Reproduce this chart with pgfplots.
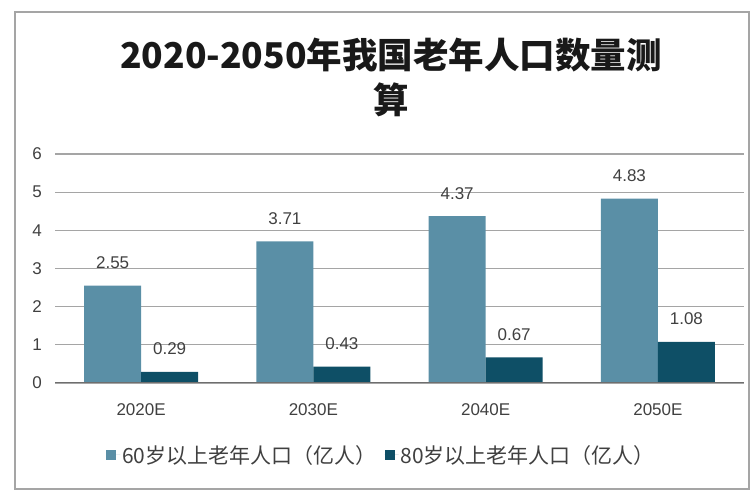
\documentclass[border=0pt]{standalone}
\usepackage{pgfplots}
\pgfplotsset{compat=1.18}
\usepackage{fontspec}
\setmainfont{Liberation Sans}
\newfontfamily\cjk{Noto Sans CJK SC}
\definecolor{c1}{RGB}{90,143,166}
\definecolor{c2}{RGB}{14,79,102}
\definecolor{txt}{RGB}{64,64,64}
\definecolor{gridc}{RGB}{165,165,165}
\definecolor{axc}{RGB}{110,110,110}
\begin{document}
\begin{tikzpicture}[x=1pt,y=1pt]
\path (0,0) rectangle (750,500);
\draw[gridc, line width=1.2pt] (15,11) rectangle (749,488);
\node[font=\cjk\bfseries\fontsize{35.5}{40}\selectfont, text=black!90] at (391,445) {2020-2050年我国老年人口数量测};
\node[font=\cjk\bfseries\fontsize{35.5}{40}\selectfont, text=black!90] at (391,400) {算};
\begin{axis}[
  at={(55pt,117pt)}, anchor=south west,
  width=689pt, height=229pt, scale only axis,
  xmin=-0.5, xmax=3.5, ymin=0, ymax=6,
  xtick={0,1,2,3}, xticklabels={2020E,2030E,2040E,2050E},
  ytick={0,1,2,3,4,5,6},
  /pgf/number format/assume math mode=true,
  axis line style={draw=none},
  major tick length=0pt,
  ymajorgrids, grid style={gridc, line width=1.3pt},
  tick label style={font=\fontsize{17}{19}\selectfont, text=txt},
  xticklabel style={anchor=center, yshift=-27pt},
  yticklabel style={anchor=center, xshift=-18pt},
  ybar=0pt, bar width=57pt,
  nodes near coords,
  nodes near coords style={font=\fontsize{17}{19}\selectfont, text=txt, anchor=center, yshift=23pt},
  legend style={at={(0.474,-0.314)}, anchor=center, draw=none, fill=none,
    font=\cjk\fontsize{21}{23}\selectfont, text=txt,
    /tikz/every even column/.append style={column sep=6pt}},
  legend columns=2,
  legend image code/.code={\fill[#1] (0pt,-5pt) rectangle (10pt,5pt); \path (0pt,0pt) -- (14pt,0pt);},
]
\addplot[fill=c1, draw=none] coordinates {(0,2.55) (1,3.71) (2,4.37) (3,4.83)};
\addplot[fill=c2, draw=none] coordinates {(0,0.29) (1,0.43) (2,0.67) (3,1.08)};
\draw[axc, line width=1.8pt] (axis cs:-0.5,0) -- (axis cs:3.5,0);
\legend{60岁以上老年人口（亿人）, 80岁以上老年人口（亿人）}
\end{axis}
\end{tikzpicture}
\end{document}
